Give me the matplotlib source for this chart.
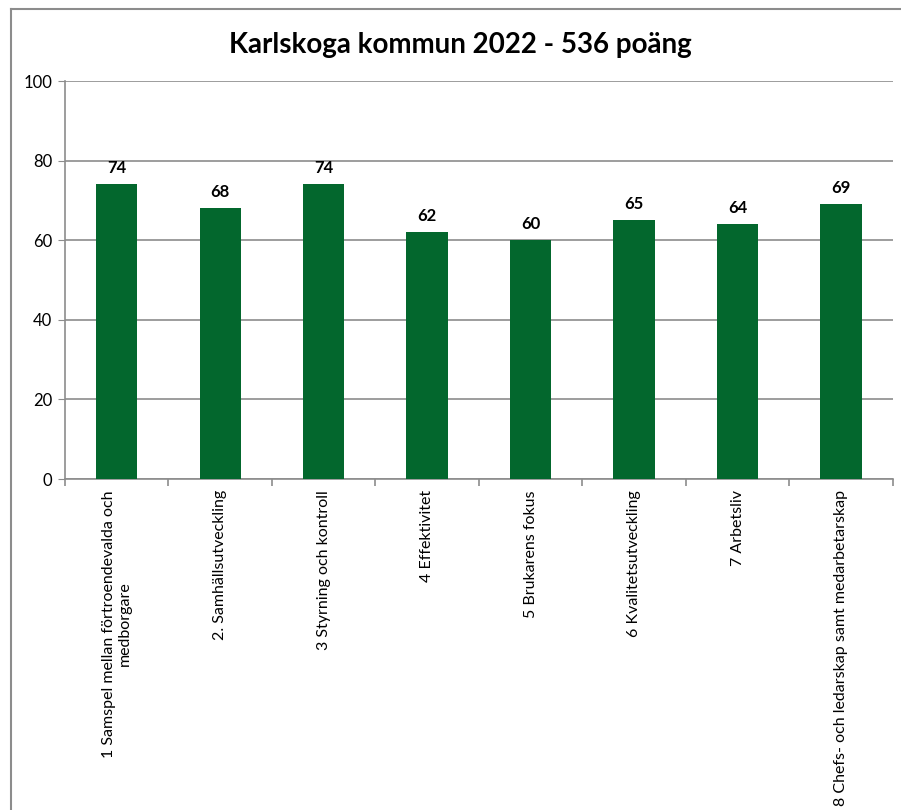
import numpy as np
import matplotlib.pyplot as plt
from matplotlib.lines import Line2D

categories = [
    "1 Samspel mellan förtroendevalda och\nmedborgare",
    "2. Samhällsutveckling",
    "3 Styrning och kontroll",
    "4 Effektivitet",
    "5 Brukarens fokus",
    "6 Kvalitetsutveckling",
    "7 Arbetsliv",
    "8 Chefs- och ledarskap samt medarbetarskap",
]
scores = [74, 68, 74, 62, 60, 65, 64, 69]
y_ticks = [0, 20, 40, 60, 80, 100]

plt.rcParams["font.family"] = ["Lato", "DejaVu Sans"]
grey = "#8c8c8c"

fig = plt.figure(figsize=(9.01, 8.1), dpi=100)
ax = fig.add_axes([0.0721, 0.4086, 0.9189, 0.4914])

x = np.arange(len(categories))
ax.bar(x, scores, width=0.4, color="#03672D", zorder=3)
for xi, v in zip(x, scores):
    ax.annotate(str(v), (xi, v), xytext=(0, 6), textcoords="offset points",
                ha="center", va="bottom", fontsize=12, fontweight="bold")

ax.set_xlim(-0.5, len(categories) - 0.5)
ax.set_ylim(0, 100)
ax.set_yticks(y_ticks)
ax.yaxis.grid(True, color=grey, linewidth=1.2, zorder=0)
ax.tick_params(axis="y", length=5, color=grey, labelsize=12, pad=4)

ax.set_xticks(x)
ax.set_xticklabels(categories, rotation=90, va="top", ha="center",
                   fontsize=11.5, multialignment="center")
ax.set_xticks(np.arange(len(categories) + 1) - 0.5, minor=True)
ax.tick_params(axis="x", which="major", length=0, pad=8)
ax.tick_params(axis="x", which="minor", length=5, color=grey, width=1.2)

for s in ["top", "right"]:
    ax.spines[s].set_visible(False)
for s in ["left", "bottom"]:
    ax.spines[s].set_color(grey)
    ax.spines[s].set_linewidth(1.2)

fig.text(0.511, 0.944, "Karlskoga kommun 2022 - 536 poäng", ha="center",
         va="center", fontsize=20, fontweight="bold")

# outer chart border (left and top edges visible)
fig.add_artist(Line2D([0.0122, 0.0122], [0.0, 0.9889], color=grey,
                      linewidth=1.5, transform=fig.transFigure))
fig.add_artist(Line2D([0.0122, 1.0], [0.9889, 0.9889], color=grey,
                      linewidth=1.5, transform=fig.transFigure))

plt.savefig("out.png", dpi=100)
